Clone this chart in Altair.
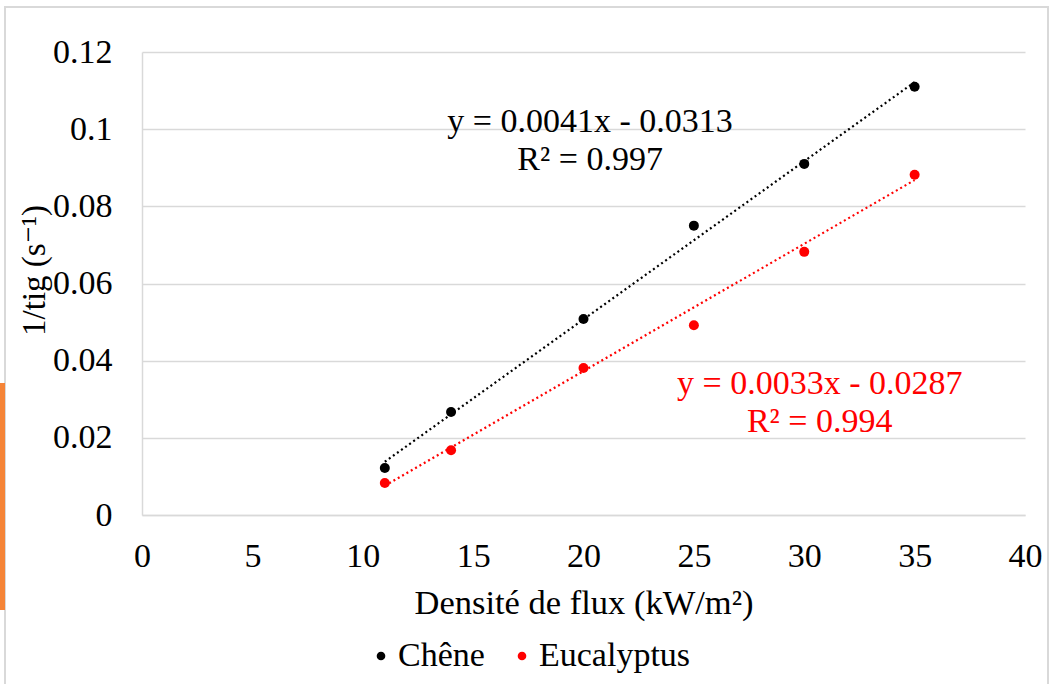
import altair as alt
import pandas as pd

# Heat flux density (kW/m²) and inverse ignition time (1/s)
flux = [11, 14, 20, 25, 30, 35]
chene = [0.0122, 0.0267, 0.0508, 0.0750, 0.0910, 0.1110]
eucalyptus = [0.0083, 0.0168, 0.0381, 0.0492, 0.0682, 0.0882]

species = ["Chêne", "Eucalyptus"]
colors = ["#000000", "#ff0000"]

# Linear trendlines (slope, intercept) and their labels
slopes = [0.0041, 0.0033]
intercepts = [-0.0313, -0.0287]
eq_lines = [["y = 0.0041x - 0.0313", "R² = 0.997"],
            ["y = 0.0033x - 0.0287", "R² = 0.994"]]
eq_x = [20.3, 30.7]
eq_y = [0.1018, 0.0340]
eq_step = 0.0099

FONT = "'Liberation Serif', 'Times New Roman', 'DejaVu Serif', serif"

points = pd.DataFrame(
    [{"flux": f, "inv": v, "species": species[0]} for f, v in zip(flux, chene)]
    + [{"flux": f, "inv": v, "species": species[1]} for f, v in zip(flux, eucalyptus)]
)

trend = pd.DataFrame(
    [{"flux": x, "inv": s * x + b, "species": sp}
     for sp, s, b in zip(species, slopes, intercepts)
     for x in (flux[0], flux[-1])]
)

labels = pd.DataFrame(
    [{"flux": ex, "inv": ey - i * eq_step, "text": t, "species": sp}
     for sp, lines, ex, ey in zip(species, eq_lines, eq_x, eq_y)
     for i, t in enumerate(lines)]
)

color = alt.Color(
    "species:N",
    scale=alt.Scale(domain=species, range=colors),
    legend=alt.Legend(
        title=None, orient="none", direction="horizontal",
        legendX=222, legendY=587, symbolType="circle", symbolSize=75,
        labelFont=FONT, labelFontSize=34, labelColor="#000000",
        columnPadding=20, labelOffset=0, symbolStrokeWidth=0,
    ),
)

x_enc = alt.X(
    "flux:Q",
    scale=alt.Scale(domain=[0, 40], nice=False),
    axis=alt.Axis(
        values=[0, 5, 10, 15, 20, 25, 30, 35, 40], title="Densité de flux (kW/m²)",
        grid=False, ticks=False, domainColor="#d9d9d9", domainWidth=1.5,
        labelFont=FONT, labelFontSize=34, labelColor="#000000", labelPadding=24,
        labelFlush=False,
        titleFont=FONT, titleFontSize=34.5, titleFontWeight="normal",
        titleColor="#000000", titlePadding=13,
    ),
)

y_enc = alt.Y(
    "inv:Q",
    scale=alt.Scale(domain=[0, 0.12], nice=False),
    axis=alt.Axis(
        values=[0, 0.02, 0.04, 0.06, 0.08, 0.1, 0.12], format=".2~f",
        title="1/tig (s⁻¹)", grid=True, gridColor="#d9d9d9", gridWidth=1.5,
        ticks=False, domainColor="#d9d9d9", domainWidth=1.5,
        labelFont=FONT, labelFontSize=34, labelColor="#000000", labelPadding=30,
        labelFlush=False,
        titleFont=FONT, titleFontSize=33, titleFontWeight="normal",
        titleColor="#000000", titleX=-108, titleY=218, titleAngle=270,
        titleAlign="center", titleBaseline="middle",
    ),
)

lines = alt.Chart(trend).mark_line(strokeDash=[2, 3], strokeWidth=2.2).encode(
    x=x_enc, y=y_enc, color=color, detail="species:N",
)

dots = alt.Chart(points).mark_circle(size=100, opacity=1).encode(
    x="flux:Q", y="inv:Q", color=color,
)

eq_text = alt.Chart(labels).mark_text(font=FONT, fontSize=34, align="center", baseline="middle").encode(
    x="flux:Q", y="inv:Q", text="text:N", color=color,
)

# outer chart frame
frame = alt.Chart(pd.DataFrame({"k": [0]})).mark_rect(
    fill="transparent", stroke="#d9d9d9", strokeWidth=2
).encode(x=alt.value(-137), x2=alt.value(906), y=alt.value(-45), y2=alt.value(700))

# orange strip of the neighbouring slide along the left edge
strip = alt.Chart(pd.DataFrame({"k": [0]})).mark_rect(fill="#f58437").encode(
    x=alt.value(-142), x2=alt.value(-137), y=alt.value(331), y2=alt.value(558)
)

chart = (
    alt.layer(frame, strip, lines, dots, eq_text)
    .properties(
        width=883, height=463,
        padding={"left": 142, "top": 52, "right": 26, "bottom": 169},
        autosize=alt.AutoSizeParams(type="none"),
        background="#ffffff",
    )
    .configure_view(stroke=None)
)

chart.save("out.html", embed_options={"renderer": "svg", "actions": False})
